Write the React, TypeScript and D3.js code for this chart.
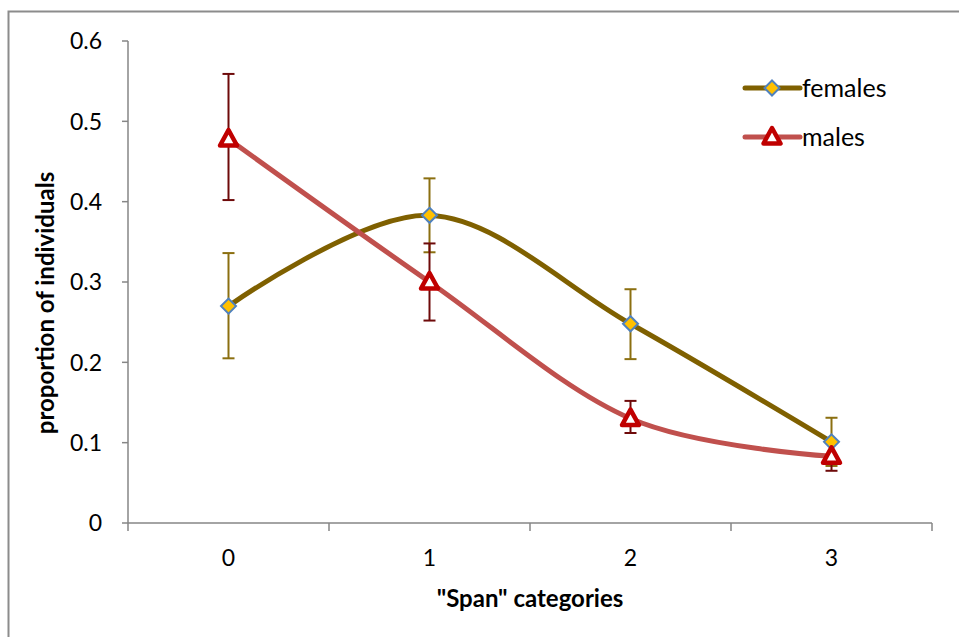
import React from "react";
import * as d3 from "d3";

const categories = ["0", "1", "2", "3"];
const yTicks = [0, 0.1, 0.2, 0.3, 0.4, 0.5, 0.6];
const femalesValues = [0.27, 0.383, 0.248, 0.101];
const femalesLow = [0.205, 0.337, 0.204, 0.071];
const femalesHigh = [0.336, 0.429, 0.291, 0.131];
const malesValues = [0.478, 0.3, 0.13, 0.083];
const malesLow = [0.402, 0.252, 0.112, 0.065];
const malesHigh = [0.559, 0.348, 0.152, 0.101];

const FONT = "Lato, 'Open Sans', sans-serif";

export default function App() {
  const W = 959, H = 637;
  const left = 128, right = 932, top = 41, bottom = 523;
  const x = d3.scaleBand<string>().domain(categories).range([left, right]);
  const cx = (c: string) => (x(c) as number) + x.bandwidth() / 2;
  const y = d3.scaleLinear().domain([0, 0.6]).range([bottom, top]);
  const line = d3
    .line<number>()
    .x((_, i) => cx(categories[i]))
    .y((d) => y(d))
    .curve(d3.curveCardinal.tension(0));

  const femC = "#7F6000";
  const malC = "#C0504D";
  const femErr = "#8B6F10";
  const malErr = "#6E0A0A";

  const diamond = (px: number, py: number, key: string) => (
    <path
      key={key}
      d={`M${px},${py - 7.5}L${px + 7.5},${py}L${px},${py + 7.5}L${px - 7.5},${py}Z`}
      fill="#FFC000"
      stroke="#4F81BD"
      strokeWidth={2}
    />
  );
  const triangle = (px: number, py: number, key: string) => (
    <path
      key={key}
      d={`M${px},${py - 9}L${px + 8.5},${py + 6.5}L${px - 8.5},${py + 6.5}Z`}
      fill="#fff"
      stroke="#C00000"
      strokeWidth={4.5}
      strokeLinejoin="round"
    />
  );
  const errBars = (lo: number[], hi: number[], color: string, pre: string) =>
    categories.map((c, i) => {
      const px = cx(c);
      return (
        <g key={pre + i} stroke={color} strokeWidth={2}>
          <line x1={px} x2={px} y1={y(lo[i])} y2={y(hi[i])} />
          <line x1={px - 6} x2={px + 6} y1={y(lo[i])} y2={y(lo[i])} />
          <line x1={px - 6} x2={px + 6} y1={y(hi[i])} y2={y(hi[i])} />
        </g>
      );
    });

  const xEdges = [left, ...categories.map((c) => (x(c) as number) + x.bandwidth())];

  return (
    <svg
      width={W}
      height={H}
      style={{ position: "absolute", left: 0, top: 0, background: "#fff" }}
      fontFamily={FONT}
    >
      <rect x={8.5} y={11.5} width={W + 20} height={H + 20} fill="#fff" stroke="#8c8c8c" strokeWidth={2} />
      {/* axes */}
      <line x1={left} x2={left} y1={top} y2={bottom} stroke="#868686" strokeWidth={1.5} />
      <line x1={left} x2={right} y1={bottom} y2={bottom} stroke="#868686" strokeWidth={1.5} />
      {yTicks.map((t) => (
        <g key={"yt" + t}>
          <line x1={left - 6} x2={left} y1={y(t)} y2={y(t)} stroke="#868686" strokeWidth={1.5} />
          <text x={102} y={y(t)} dy="0.36em" textAnchor="end" fontSize={23} fill="#000">
            {t === 0 ? "0" : t.toFixed(1)}
          </text>
        </g>
      ))}
      {xEdges.map((e, i) => (
        <line key={"xt" + i} x1={e} x2={e} y1={bottom} y2={bottom + 8} stroke="#868686" strokeWidth={1.5} />
      ))}
      {categories.map((c) => (
        <text key={"xl" + c} x={cx(c)} y={566} textAnchor="middle" fontSize={23} fill="#000">
          {c}
        </text>
      ))}
      <text x={530} y={607} textAnchor="middle" fontSize={24} fontWeight="bold" fill="#000">
        "Span" categories
      </text>
      <text
        transform={`translate(54,${303}) rotate(-90)`}
        textAnchor="middle"
        fontSize={24}
        fontWeight="bold"
        fill="#000"
      >
        proportion of individuals
      </text>
      {/* error bars */}
      {errBars(femalesLow, femalesHigh, femErr, "fe")}
      {errBars(malesLow, malesHigh, malErr, "me")}
      {/* lines */}
      <path d={line(femalesValues) as string} fill="none" stroke={femC} strokeWidth={5} />
      <path d={line(malesValues) as string} fill="none" stroke={malC} strokeWidth={5} />
      {femalesValues.map((v, i) => diamond(cx(categories[i]), y(v), "fd" + i))}
      {malesValues.map((v, i) => triangle(cx(categories[i]), y(v), "mt" + i))}
      {/* legend */}
      <line x1={745} x2={800} y1={88} y2={88} stroke={femC} strokeWidth={5} strokeLinecap="round" />
      {diamond(772, 88, "lgd")}
      <text x={802} y={88} dy="0.36em" fontSize={25} fill="#000">females</text>
      <line x1={745} x2={800} y1={137} y2={137} stroke={malC} strokeWidth={5} strokeLinecap="round" />
      {triangle(772, 137, "lgt")}
      <text x={802} y={137} dy="0.36em" fontSize={25} fill="#000">males</text>
    </svg>
  );
}
